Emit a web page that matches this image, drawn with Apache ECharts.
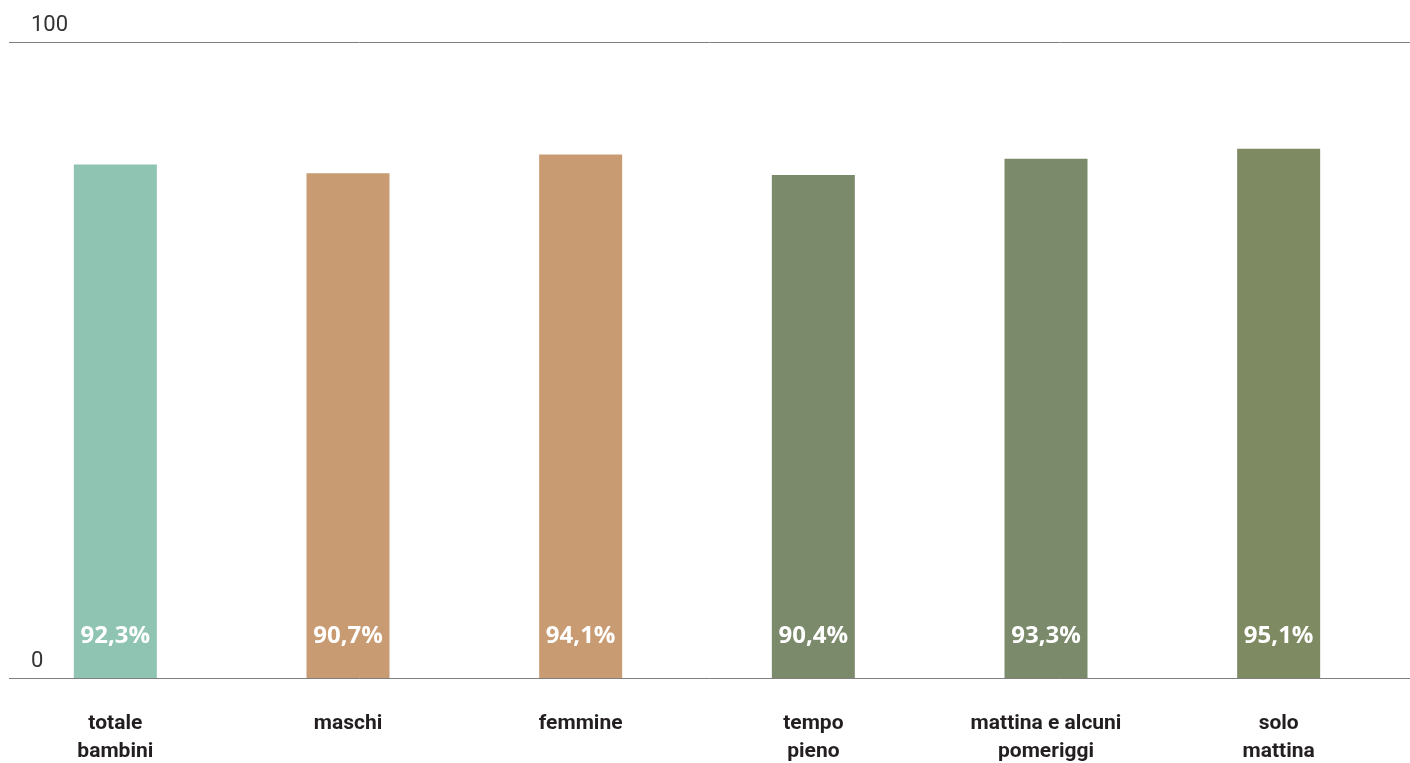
<!DOCTYPE html>
<html>
<head>
<meta charset="utf-8">
<script src="https://cdn.jsdelivr.net/npm/echarts@6/dist/echarts.min.js"></script>
<style>
html,body{margin:0;padding:0;background:#fff;}
#chart{width:1410px;height:763px;}
</style>
</head>
<body>
<div id="chart"></div>
<script>
const categories = ["totale\nbambini", "maschi", "femmine", "tempo\npieno", "mattina e alcuni\npomeriggi", "solo\nmattina"];
const values = [92.3, 90.7, 94.1, 90.4, 93.3, 95.1];
const barColors = ["#8fc4b3", "#c89b72", "#c89b72", "#7b8a6b", "#7b8a6b", "#7e8a61"];
const tickLabels = ["0", "100"];
// top gridline of the reference sits at this value on the bars' scale
const axisTop = 114.3;

const chart = echarts.init(document.getElementById('chart'));
chart.setOption({
  animation: false,
  backgroundColor: '#ffffff',
  grid: [
    {left: 9, right: 0, top: 42, bottom: 85, outerBoundsMode: 'none', containLabel: false},
    {left: -1, right: 15, top: 42, bottom: 85, outerBoundsMode: 'none', containLabel: false}
  ],
  xAxis: [
    {gridIndex: 0, type: 'category', data: categories, show: false},
    {
      gridIndex: 1, type: 'category', data: categories,
      axisLine: {show: false}, axisTick: {show: false},
      axisLabel: {
        interval: 0, margin: 32, color: '#231f20',
        fontFamily: 'Roboto, sans-serif',
        fontWeight: 'bold', fontSize: 21, lineHeight: 28
      }
    }
  ],
  yAxis: [
    {
      gridIndex: 0, type: 'value', min: 0, max: axisTop, interval: axisTop,
      axisLine: {show: false}, axisTick: {show: false},
      splitLine: {show: true, lineStyle: {color: '#7f7f7f', width: 1}},
      axisLabel: {
        inside: true, margin: 22, align: 'left', verticalAlign: 'bottom',
        padding: [0, 0, 6, 0],
        color: '#333', fontFamily: 'Roboto, sans-serif', fontSize: 22,
        formatter: function (v) { return v === 0 ? tickLabels[0] : tickLabels[1]; }
      }
    },
    {gridIndex: 1, type: 'value', min: 0, max: axisTop, show: false}
  ],
  series: [{
    type: 'bar',
    xAxisIndex: 1, yAxisIndex: 1,
    barWidth: 83,
    data: values.map((v, i) => ({value: v, itemStyle: {color: barColors[i]}})),
    label: {
      show: true, position: 'insideBottom', distance: 30,
      color: '#fff', fontFamily: '"Open Sans", sans-serif', fontWeight: 'bold', fontSize: 24,
      formatter: p => p.value.toFixed(1).replace('.', ',') + '%'
    }
  }]
});
</script>
</body>
</html>
